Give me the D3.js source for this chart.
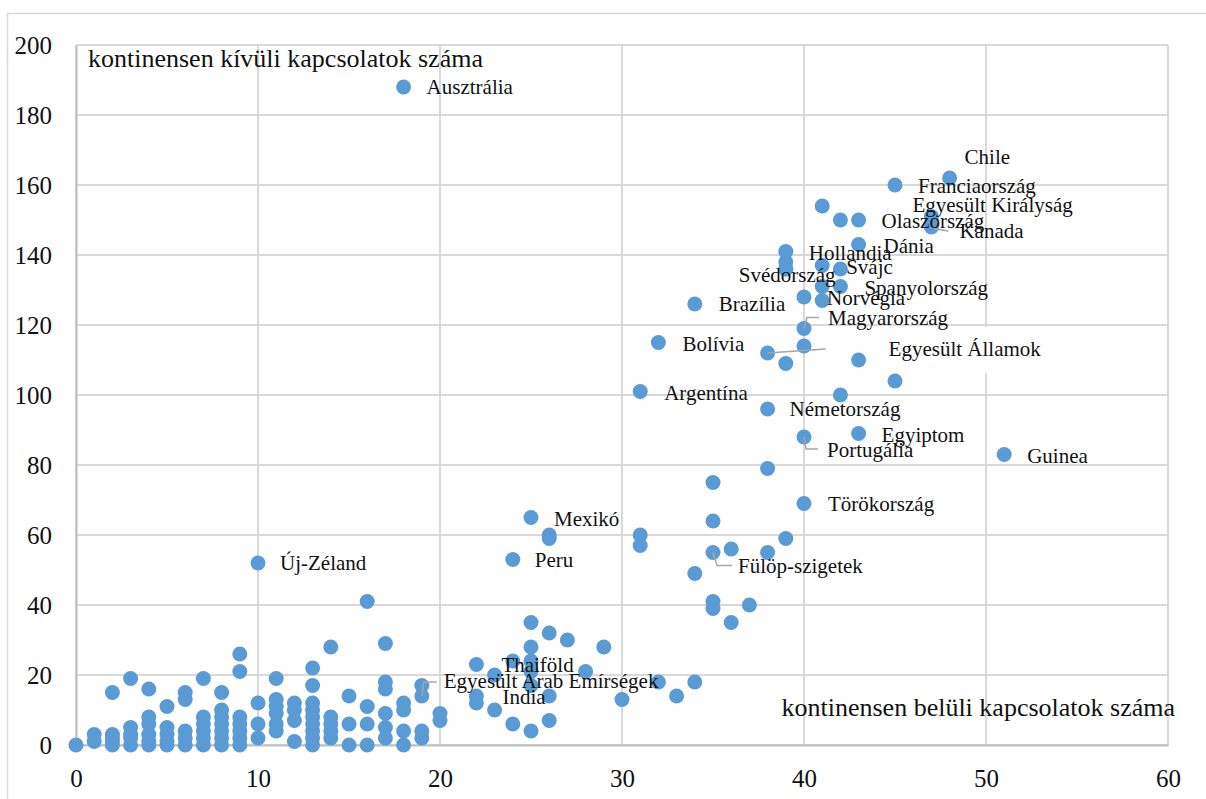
<!DOCTYPE html>
<html>
<head>
<meta charset="utf-8">
<script src="https://cdn.jsdelivr.net/npm/d3@7/dist/d3.min.js"></script>
<style>
  body { margin: 0; background: #fff; }
  text { font-family: "Liberation Serif", "Times New Roman", serif; fill: #111; }
</style>
</head>
<body>
<svg id="chart" width="1206" height="799"></svg>
<script>
// labelled countries: connections inside / outside own continent
var labelNames = ["Ausztrália", "Chile", "Franciaország", "Egyesült Királyság", "Olaszország", "Kanada",
  "Dánia", "Hollandia", "Svájc", "Svédország", "Spanyolország", "Brazília", "Norvégia", "Magyarország",
  "Bolívia", "Egyesült Államok", "Argentína", "Németország", "Egyiptom", "Portugália", "Guinea",
  "Törökország", "Fülöp-szigetek", "Mexikó", "Peru", "Új-Zéland", "Thaiföld", "Egyesült Arab Emírségek", "India"];
var labelIn = [18, 48, 45, 47, 43, 47, 43, 39, 41, 39, 42, 34, 40, 40, 32, 38, 31, 38, 43, 40, 51, 40, 35, 25, 24, 10, 22, 19, 22];
var labelOut = [188, 162, 160, 151, 150, 148, 143, 141, 137, 136, 131, 126, 128, 119, 115, 112, 101, 96, 89, 88, 83, 69, 55, 65, 53, 52, 23, 14, 14];

// unlabelled countries, grouped by inside-continent count
var otherIn = [0, 1, 2, 3, 4, 5, 6, 7, 8, 9, 10, 11, 12, 13, 14, 15, 16, 17, 18, 19, 20, 22, 23, 24, 25,
  26, 27, 28, 29, 30, 31, 32, 33, 34, 35, 36, 37, 38, 39, 40, 41, 42, 43, 45];
var otherOut = [
  [0], [3, 1], [15, 3, 2, 1, 0], [19, 5, 3, 2, 0], [16, 8, 6, 3, 1, 0], [11, 5, 3, 1, 0], [15, 13, 4, 2, 0],
  [19, 8, 6, 4, 2, 0], [15, 10, 8, 6, 4, 2, 0], [26, 21, 8, 6, 4, 2, 0], [12, 6, 2], [19, 13, 11, 9, 6, 4],
  [12, 10, 7, 1], [22, 17, 12, 10, 8, 6, 4, 2, 0], [28, 8, 6, 4, 2], [14, 6, 0], [41, 11, 6, 0],
  [29, 18, 16, 9, 5, 2], [12, 10, 4, 0], [17, 4, 2], [9, 7], [12], [20, 10], [24, 6], [35, 28, 24, 21, 17, 4],
  [60, 59, 32, 14, 7], [30], [21], [28], [13], [60, 57], [18], [14], [49, 18], [75, 64, 41, 39], [56, 35],
  [40], [79, 55], [138, 136, 109, 59], [114], [154, 131, 127], [150, 136, 100], [110], [104]
];

var xTicks = [0, 10, 20, 30, 40, 50, 60];
var yTicks = [0, 20, 40, 60, 80, 100, 120, 140, 160, 180, 200];

// label placement (px from the dot: left edge / baseline of the text)
var labelOffset = {
  "Ausztrália": [23, 7], "Chile": [15, -14], "Franciaország": [23, 8], "Egyesült Királyság": [-19, -5],
  "Olaszország": [23, 8], "Kanada": [28, 11], "Dánia": [25, 8], "Hollandia": [23, 8], "Svájc": [24, 8],
  "Svédország": [-47, 13], "Spanyolország": [24, 8], "Brazília": [24, 7], "Norvégia": [23, 8],
  "Magyarország": [24, -4], "Bolívia": [24, 8], "Egyesült Államok": [121, 3], "Argentína": [24, 8],
  "Németország": [22, 7], "Egyiptom": [23, 8], "Portugália": [23, 20], "Guinea": [23, 8],
  "Törökország": [24, 7], "Fülöp-szigetek": [25, 20], "Mexikó": [23, 8], "Peru": [22, 7],
  "Új-Zéland": [22, 7], "Thaiföld": [25, 7], "Egyesült Arab Emírségek": [22, -8], "India": [26, 8]
};
var leaders = {
  "Portugália": [[0, 0], [2, 12], [14, 12]],
  "Magyarország": [[0, 0], [3, -11], [15, -11]],
  "Fülöp-szigetek": [[0, 0], [4, 13], [19, 13]],
  "Egyesült Arab Emírségek": [[0, 0], [2, -14], [15, -14]],
  "Kanada": [[0, 0], [4, 2], [17, 4]],
  "Egyesült Államok": [[0, 0], [58, -4]]
};

var svg = d3.select("#chart");
var margin = { top: 45, right: 38, bottom: 54, left: 76 };
var width = 1206 - margin.left - margin.right;
var height = 799 - margin.top - margin.bottom;
var serif = "'Liberation Serif', 'Times New Roman', serif";

// outer chart frame
svg.append("path")
  .attr("d", "M7.5,799V13.5H1206")
  .attr("fill", "none").attr("stroke", "#d9d9d9").attr("stroke-width", 1.5);

var g = svg.append("g").attr("transform", "translate(" + margin.left + "," + margin.top + ")");

var xScale = d3.scaleLinear().domain([0, 60]).range([0, width]);
var yScale = d3.scaleLinear().domain([0, 200]).range([height, 0]);

// grid
g.append("g").selectAll("line").data(xTicks).enter().append("line")
  .attr("x1", function (d) { return xScale(d); }).attr("x2", function (d) { return xScale(d); })
  .attr("y1", 0).attr("y2", height)
  .attr("stroke", "#d9d9d9").attr("stroke-width", 2);
g.append("g").selectAll("line").data(yTicks).enter().append("line")
  .attr("y1", function (d) { return yScale(d); }).attr("y2", function (d) { return yScale(d); })
  .attr("x1", 0).attr("x2", width)
  .attr("stroke", "#d9d9d9").attr("stroke-width", 2);

// axes
var xAxis = g.append("g")
  .attr("transform", "translate(0," + height + ")")
  .call(d3.axisBottom(xScale).tickValues(xTicks).tickSize(0).tickPadding(24));
var yAxis = g.append("g")
  .call(d3.axisLeft(yScale).tickValues(yTicks).tickSize(0).tickPadding(24));
[xAxis, yAxis].forEach(function (a) {
  a.attr("font-family", null);
  a.select(".domain").attr("stroke", "#bfbfbf").attr("stroke-width", 2);
  a.selectAll("text").style("font-family", serif).style("font-size", "25px").attr("fill", "#111");
});

// axis titles
g.append("text")
  .attr("x", 12).attr("y", 22)
  .style("font-size", "26px")
  .text("kontinensen kívüli kapcsolatok száma");
g.append("text")
  .attr("x", width + 7).attr("y", height - 29)
  .attr("text-anchor", "end")
  .style("font-size", "26px")
  .text("kontinensen belüli kapcsolatok száma");

// points
var points = [];
otherIn.forEach(function (xv, i) {
  otherOut[i].forEach(function (yv) { points.push({ x: xv, y: yv }); });
});
labelNames.forEach(function (n, i) { points.push({ x: labelIn[i], y: labelOut[i], name: n }); });

g.append("g").selectAll("circle")
  .data(points)
  .enter().append("circle")
  .attr("cx", function (d) { return xScale(d.x); })
  .attr("cy", function (d) { return yScale(d.y); })
  .attr("r", 7.5)
  .attr("fill", "#5b9bd5");

var labelled = points.filter(function (d) { return d.name; });

// leader lines
var line = d3.line();
g.append("g").selectAll("path")
  .data(labelled.filter(function (d) { return leaders[d.name]; }))
  .enter().append("path")
  .attr("d", function (d) {
    return line(leaders[d.name].map(function (p) { return [xScale(d.x) + p[0], yScale(d.y) + p[1]]; }));
  })
  .attr("fill", "none").attr("stroke", "#a6a6a6").attr("stroke-width", 1.5);

// white box behind "Egyesült Államok"
var us = labelled.filter(function (d) { return d.name === "Egyesült Államok"; })[0];
g.append("rect")
  .attr("x", xScale(us.x) + 99).attr("y", yScale(us.y) - 26)
  .attr("width", 182).attr("height", 46)
  .attr("fill", "#fff");

// data labels
g.append("g").selectAll("text")
  .data(labelled)
  .enter().append("text")
  .attr("x", function (d) { return xScale(d.x) + labelOffset[d.name][0]; })
  .attr("y", function (d) { return yScale(d.y) + labelOffset[d.name][1]; })
  .style("font-size", "21px")
  .text(function (d) { return d.name; });
</script>
</body>
</html>
